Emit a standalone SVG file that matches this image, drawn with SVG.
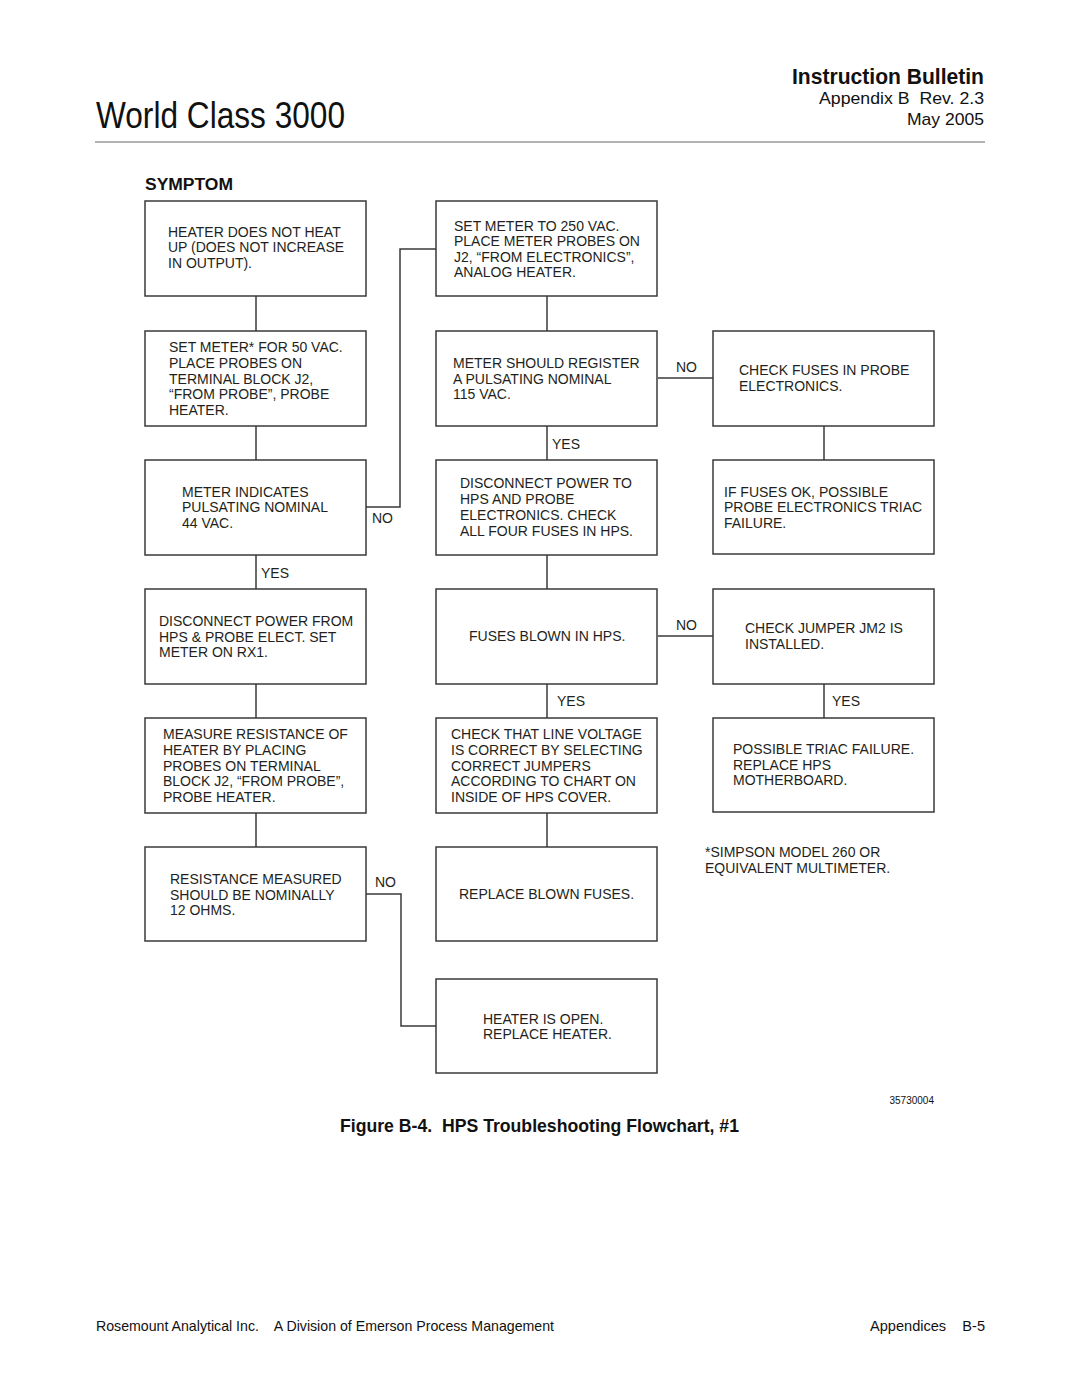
<svg xmlns="http://www.w3.org/2000/svg" width="1080" height="1397" viewBox="0 0 1080 1397">
<style>
.box{fill:#fff;stroke:#3a3a3a;stroke-width:1.5}
.t{font-family:"Liberation Sans",Arial,sans-serif;font-size:14px;fill:#231f20}
.lbl{font-family:"Liberation Sans",Arial,sans-serif;font-size:14px;fill:#231f20}
.c{fill:none;stroke:#3a3a3a;stroke-width:1.5}
.h{font-family:"Liberation Sans",Arial,sans-serif;fill:#111}
</style>
<rect width="1080" height="1397" fill="#fff"/>
<g id="header">
<text class="h" x="984" y="84" text-anchor="end" font-size="22" font-weight="bold" textLength="192" lengthAdjust="spacingAndGlyphs">Instruction Bulletin</text>
<text class="h" x="984" y="104" text-anchor="end" font-size="17" textLength="165" lengthAdjust="spacingAndGlyphs" xml:space="preserve">Appendix B  Rev. 2.3</text>
<text class="h" x="984" y="125" text-anchor="end" font-size="17" textLength="77" lengthAdjust="spacingAndGlyphs">May 2005</text>
<text class="h" x="96" y="128" font-size="37" textLength="249" lengthAdjust="spacingAndGlyphs">World Class 3000</text>
<line x1="95" y1="142" x2="985" y2="142" stroke="#666" stroke-width="1.2"/>
<text class="h" x="145" y="190" font-size="16" font-weight="bold" textLength="88" lengthAdjust="spacingAndGlyphs">SYMPTOM</text>
</g>
<g id="connectors">
<line class="c" x1="256" y1="296" x2="256" y2="331"/>
<line class="c" x1="256" y1="426" x2="256" y2="460"/>
<line class="c" x1="256" y1="555" x2="256" y2="589"/>
<line class="c" x1="256" y1="684" x2="256" y2="718"/>
<line class="c" x1="256" y1="813" x2="256" y2="847"/>
<polyline class="c" points="366,507 400,507 400,249 436,249"/>
<polyline class="c" points="366,894 401,894 401,1026 436,1026"/>
<line class="c" x1="547" y1="296" x2="547" y2="331"/>
<line class="c" x1="547" y1="426" x2="547" y2="460"/>
<line class="c" x1="547" y1="555" x2="547" y2="589"/>
<line class="c" x1="547" y1="684" x2="547" y2="718"/>
<line class="c" x1="547" y1="813" x2="547" y2="847"/>
<line class="c" x1="658" y1="378" x2="713" y2="378"/>
<line class="c" x1="658" y1="636" x2="713" y2="636"/>
<line class="c" x1="824" y1="426" x2="824" y2="460"/>
<line class="c" x1="824" y1="684" x2="824" y2="718"/>
<text class="lbl" x="372" y="523">NO</text>
<text class="lbl" x="375" y="887">NO</text>
<text class="lbl" x="261" y="578">YES</text>
<text class="lbl" x="552" y="449">YES</text>
<text class="lbl" x="557" y="706">YES</text>
<text class="lbl" x="832" y="706">YES</text>
<text class="lbl" x="676" y="372">NO</text>
<text class="lbl" x="676" y="630">NO</text>
</g>
<g id="n1"><rect class="box" x="145" y="201" width="221" height="95"/>
<text class="t" x="168" y="236.5">HEATER DOES NOT HEAT<tspan x="168" dy="15.8">UP (DOES NOT INCREASE</tspan><tspan x="168" dy="15.8">IN OUTPUT).</tspan></text></g>
<g id="n2"><rect class="box" x="145" y="331" width="221" height="95"/>
<text class="t" x="169" y="352">SET METER* FOR 50 VAC.<tspan x="169" dy="15.8">PLACE PROBES ON</tspan><tspan x="169" dy="15.8">TERMINAL BLOCK J2,</tspan><tspan x="169" dy="15.8">“FROM PROBE”, PROBE</tspan><tspan x="169" dy="15.8">HEATER.</tspan></text></g>
<g id="n3"><rect class="box" x="145" y="460" width="221" height="95"/>
<text class="t" x="182" y="496.5">METER INDICATES<tspan x="182" dy="15.8">PULSATING NOMINAL</tspan><tspan x="182" dy="15.8">44 VAC.</tspan></text></g>
<g id="n4"><rect class="box" x="145" y="589" width="221" height="95"/>
<text class="t" x="159" y="626">DISCONNECT POWER FROM<tspan x="159" dy="15.6">HPS &amp; PROBE ELECT. SET</tspan><tspan x="159" dy="15.6">METER ON RX1.</tspan></text></g>
<g id="n5"><rect class="box" x="145" y="718" width="221" height="95"/>
<text class="t" x="163" y="739">MEASURE RESISTANCE OF<tspan x="163" dy="15.75">HEATER BY PLACING</tspan><tspan x="163" dy="15.75">PROBES ON TERMINAL</tspan><tspan x="163" dy="15.75">BLOCK J2, “FROM PROBE”,</tspan><tspan x="163" dy="15.75">PROBE HEATER.</tspan></text></g>
<g id="n6"><rect class="box" x="145" y="847" width="221" height="94"/>
<text class="t" x="170" y="884">RESISTANCE MEASURED<tspan x="170" dy="15.6">SHOULD BE NOMINALLY</tspan><tspan x="170" dy="15.6">12 OHMS.</tspan></text></g>
<g id="n7"><rect class="box" x="436" y="201" width="221" height="95"/>
<text class="t" x="454" y="230.5">SET METER TO 250 VAC.<tspan x="454" dy="15.6">PLACE METER PROBES ON</tspan><tspan x="454" dy="15.6">J2, “FROM ELECTRONICS”,</tspan><tspan x="454" dy="15.6">ANALOG HEATER.</tspan></text></g>
<g id="n8"><rect class="box" x="436" y="331" width="221" height="95"/>
<text class="t" x="453" y="368">METER SHOULD REGISTER<tspan x="453" dy="15.6">A PULSATING NOMINAL</tspan><tspan x="453" dy="15.6">115 VAC.</tspan></text></g>
<g id="n9"><rect class="box" x="436" y="460" width="221" height="95"/>
<text class="t" x="460" y="488">DISCONNECT POWER TO<tspan x="460" dy="15.9">HPS AND PROBE</tspan><tspan x="460" dy="15.9">ELECTRONICS. CHECK</tspan><tspan x="460" dy="15.9">ALL FOUR FUSES IN HPS.</tspan></text></g>
<g id="n10"><rect class="box" x="436" y="589" width="221" height="95"/>
<text class="t" x="469" y="641">FUSES BLOWN IN HPS.</text></g>
<g id="n11"><rect class="box" x="436" y="718" width="221" height="95"/>
<text class="t" x="451" y="739">CHECK THAT LINE VOLTAGE<tspan x="451" dy="15.75">IS CORRECT BY SELECTING</tspan><tspan x="451" dy="15.75">CORRECT JUMPERS</tspan><tspan x="451" dy="15.75">ACCORDING TO CHART ON</tspan><tspan x="451" dy="15.75">INSIDE OF HPS COVER.</tspan></text></g>
<g id="n12"><rect class="box" x="436" y="847" width="221" height="94"/>
<text class="t" x="459" y="899">REPLACE BLOWN FUSES.</text></g>
<g id="n13"><rect class="box" x="436" y="979" width="221" height="94"/>
<text class="t" x="483" y="1023.5">HEATER IS OPEN.<tspan x="483" dy="15.6">REPLACE HEATER.</tspan></text></g>
<g id="n14"><rect class="box" x="713" y="331" width="221" height="95"/>
<text class="t" x="739" y="375">CHECK FUSES IN PROBE<tspan x="739" dy="15.6">ELECTRONICS.</tspan></text></g>
<g id="n15"><rect class="box" x="713" y="460" width="221" height="94"/>
<text class="t" x="724" y="496.5">IF FUSES OK, POSSIBLE<tspan x="724" dy="15.6">PROBE ELECTRONICS TRIAC</tspan><tspan x="724" dy="15.6">FAILURE.</tspan></text></g>
<g id="n16"><rect class="box" x="713" y="589" width="221" height="95"/>
<text class="t" x="745" y="633">CHECK JUMPER JM2 IS<tspan x="745" dy="15.6">INSTALLED.</tspan></text></g>
<g id="n17"><rect class="box" x="713" y="718" width="221" height="94"/>
<text class="t" x="733" y="754">POSSIBLE TRIAC FAILURE.<tspan x="733" dy="15.6">REPLACE HPS</tspan><tspan x="733" dy="15.6">MOTHERBOARD.</tspan></text></g>
<g id="footnote">
<text class="t" x="705" y="857">*SIMPSON MODEL 260 OR<tspan x="705" dy="15.6">EQUIVALENT MULTIMETER.</tspan></text>
<text class="h" x="934" y="1104" text-anchor="end" font-size="10" fill="#333">35730004</text>
</g>
<g id="caption">
<text class="h" x="340" y="1132" font-size="18" font-weight="bold" textLength="399" lengthAdjust="spacingAndGlyphs" xml:space="preserve">Figure B-4.  HPS Troubleshooting Flowchart, #1</text>
</g>
<g id="footer">
<text class="h" x="96" y="1331" font-size="15" textLength="458" lengthAdjust="spacingAndGlyphs" xml:space="preserve">Rosemount Analytical Inc.    A Division of Emerson Process Management</text>
<text class="h" x="985" y="1331" font-size="15" text-anchor="end" textLength="115" lengthAdjust="spacingAndGlyphs" xml:space="preserve">Appendices    B-5</text>
</g>
</svg>
